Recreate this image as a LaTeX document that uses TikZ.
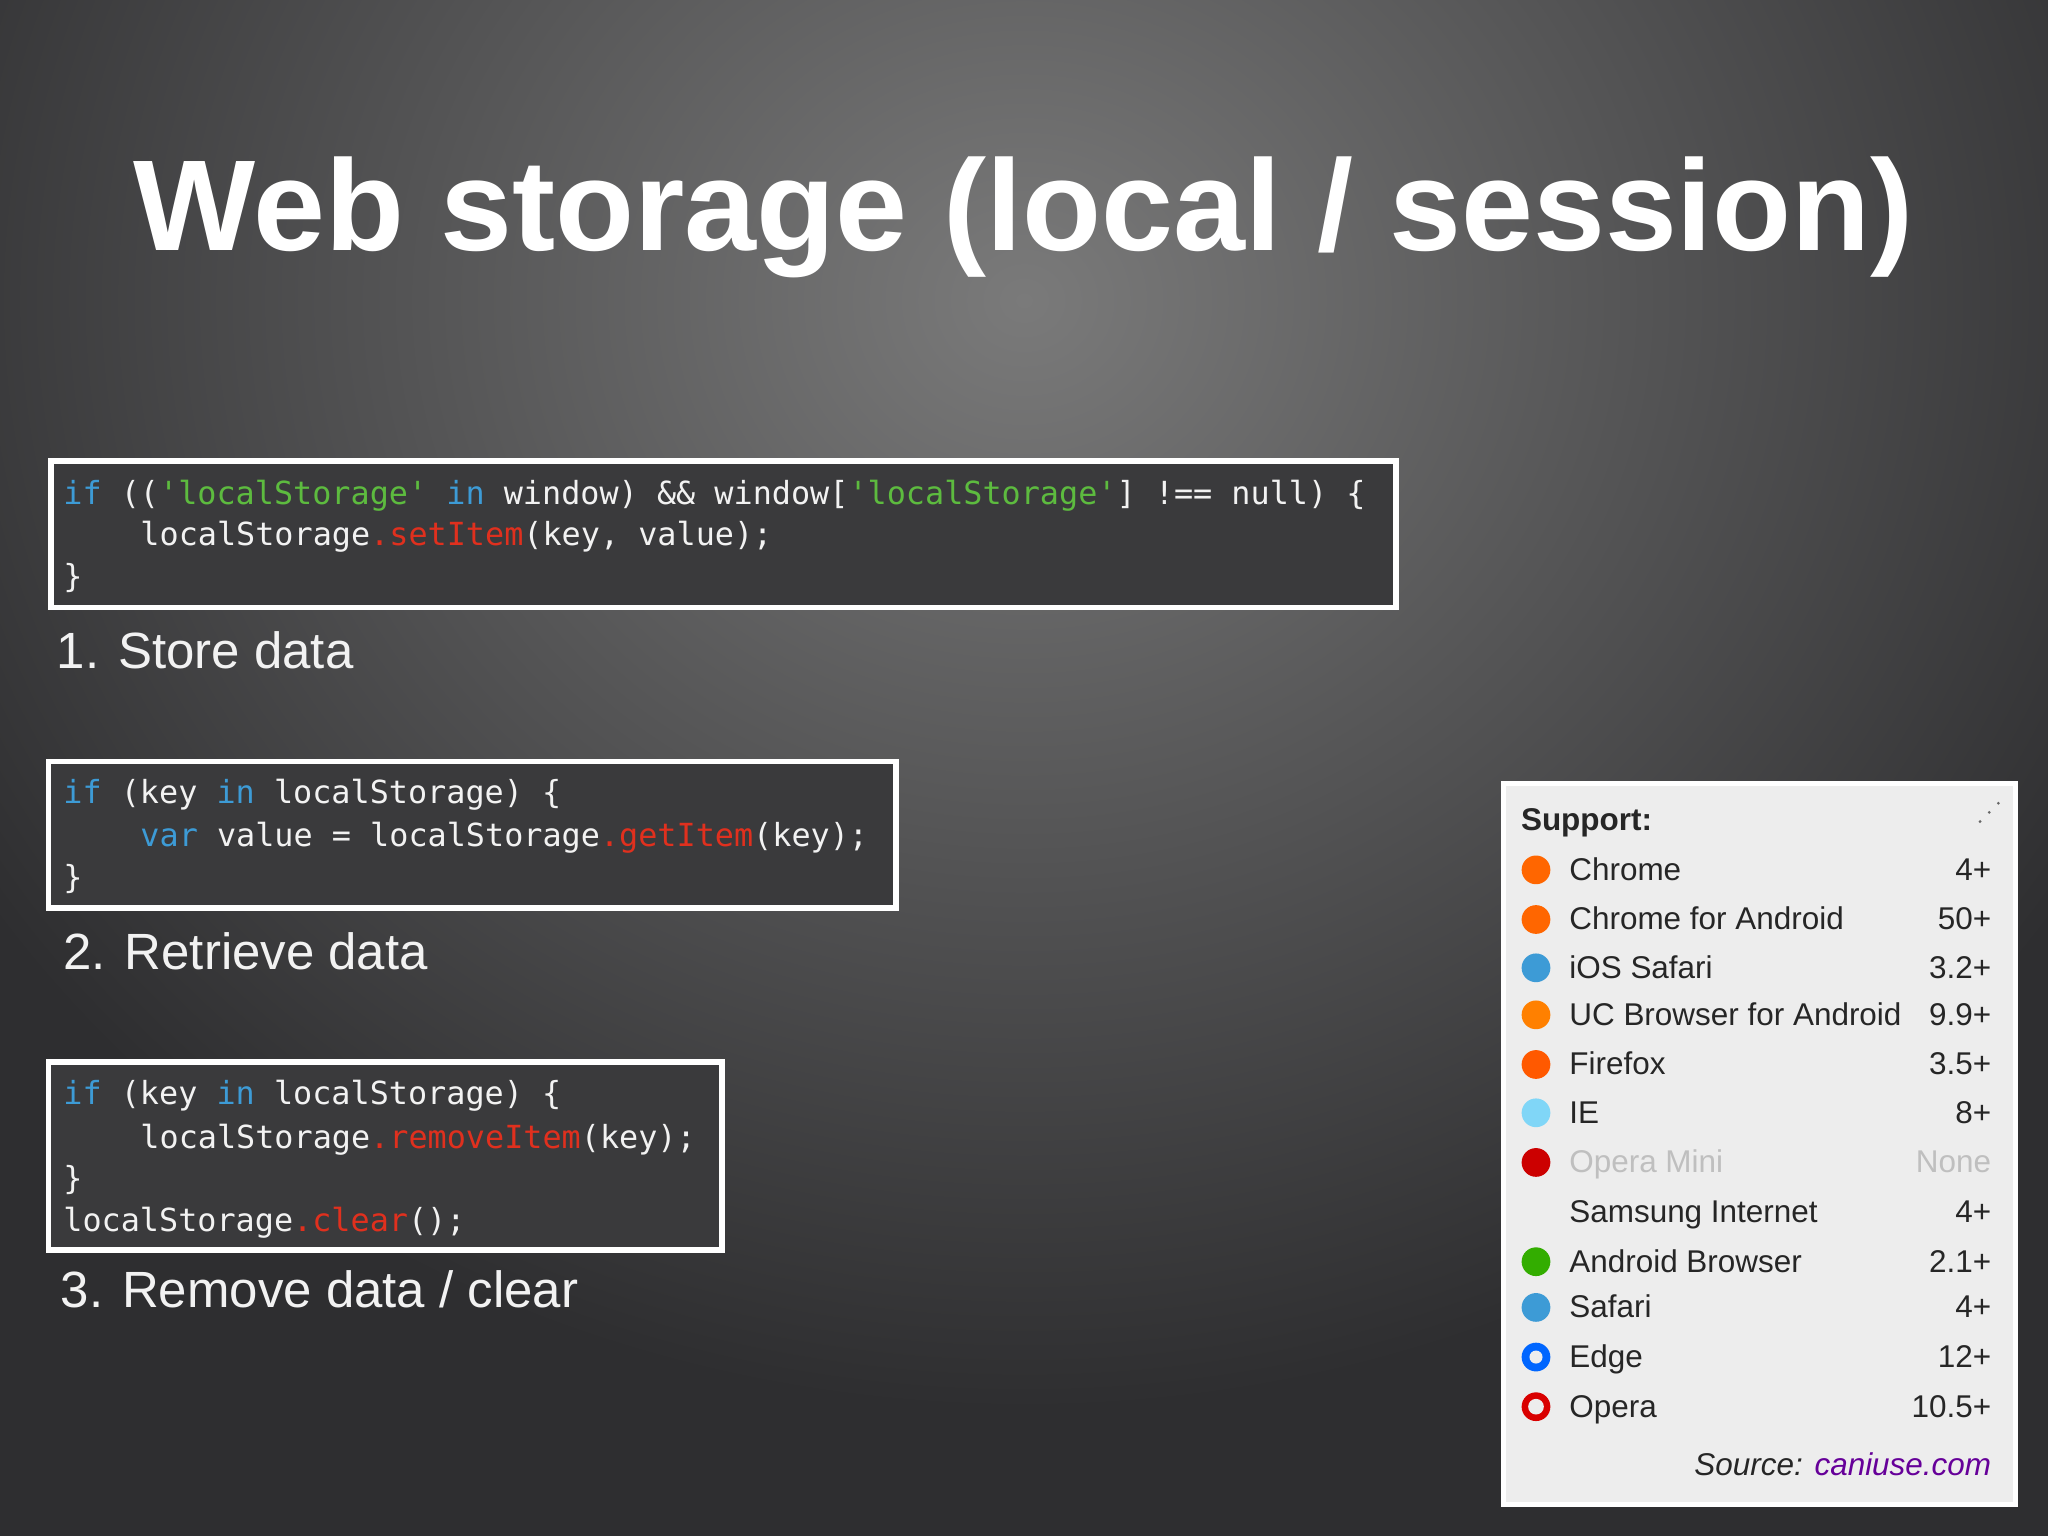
\documentclass[tikz,border=0pt]{standalone}
\usepackage{fontspec}
\setmainfont{Liberation Sans}
\setmonofont{DejaVu Sans Mono}
\definecolor{bg}{HTML}{3A3A3C}
\definecolor{kw}{HTML}{3D9BD6}
\definecolor{st}{HTML}{5DBB3F}
\definecolor{me}{HTML}{E0301E}
\definecolor{cw}{HTML}{F2F2F2}
\definecolor{panel}{HTML}{EDEDED}
\definecolor{bgout}{HTML}{2E2E30}
\definecolor{bgin}{HTML}{7A7A7A}
\tikzset{
 codebox/.style={draw=white,line width=1.6pt,fill=bg},
 code/.style={anchor=base west,inner sep=0pt,text=cw,font=\ttfamily\fontsize{9.05pt}{11pt}\selectfont},
 lab/.style={anchor=base west,inner sep=0pt,text=white!90!gray,font=\fontsize{14.5pt}{16pt}\selectfont},
 bname/.style={anchor=base west,inner sep=0pt,text=black!85,font=\fontsize{8.95pt}{11pt}\selectfont},
 bver/.style={anchor=base east,inner sep=0pt,text=black!85,font=\fontsize{8.95pt}{11pt}\selectfont},
}
\newcommand\K[1]{\textcolor{kw}{#1}}
\newcommand\Sg[1]{\textcolor{st}{#1}}
\newcommand\M[1]{\textcolor{me}{#1}}
\newcommand\brow[5]{% y, color, name, version, id
 \ifx&#2&\else\fill[#2] (1176,#1) circle (11);\fi
 \node[bname] (n#5) at (1201,#1+8) {#3};
 \node[bver] (v#5) at (1525,#1+8) {#4};}
\begin{document}
\begin{tikzpicture}[x=0.013061cm,y=-0.013061cm]
\useasboundingbox (0,0) rectangle (1568,1176);
\fill[bgout] (0,0) rectangle (1568,1176);
\begin{scope}
\clip (0,0) rectangle (1568,1176);
\shade[inner color=bgin, outer color=bgout] (784,230) ellipse (950 and 850);
\end{scope}
\node[anchor=base,inner sep=0pt,text=white,font=\bfseries\fontsize{36.8pt}{40pt}\selectfont] (title) at (784,192) {Web storage (local / session)};

% box 1
\draw[codebox] (39,353) rectangle (1069,465);
\node[code] (c11) at (48,386) {\K{if} ((\Sg{'localStorage'} \K{in} window) \&\& window[\Sg{'localStorage'}] !== null) \{};
\node[code] (c12) at (107,418) {localStorage\M{.setItem}(key, value);};
\node[code] (c13) at (48,450) {\}};
\node[lab] (l1) at (43,512) {1. Store data};

% box 2
\draw[codebox] (37,583) rectangle (686,695);
\node[code] (c21) at (48,615) {\K{if} (key \K{in} localStorage) \{};
\node[code] (c22) at (107,648) {\K{var} value = localStorage\M{.getItem}(key);};
\node[code] (c23) at (48,680) {\}};
\node[lab] (l2) at (48,742) {2. Retrieve data};

% box 3
\draw[codebox] (37,813) rectangle (553,957);
\node[code] (c31) at (48,846) {\K{if} (key \K{in} localStorage) \{};
\node[code] (c32) at (107,879) {localStorage\M{.removeItem}(key);};
\node[code] (c33) at (48,911) {\}};
\node[code] (c34) at (48,943) {localStorage\M{.clear}();};
\node[lab] (l3) at (46,1001) {3. Remove data / clear};

% support panel
\draw[draw=white,line width=1.5pt,fill=panel] (1151,600) rectangle (1543,1152);
\node[bname,font=\bfseries\fontsize{8.95pt}{11pt}\selectfont] (sup) at (1164,636) {Support:};
\fill[black!60] (1516,629) circle (1.2) (1523,622) circle (1.2) (1530,615) circle (1.2);
\brow{666}{orange!80!red}{Chrome}{4+}{a}
\brow{704}{orange!80!red}{Chrome for Android}{50+}{b}
\brow{741}{kw}{iOS Safari}{3.2+}{c}
\brow{777}{orange}{UC Browser for Android}{9.9+}{d}
\brow{815}{orange!70!red}{Firefox}{3.5+}{e}
\brow{852}{cyan!50}{IE}{8+}{f}
\fill[red!80!black] (1176,890) circle (11);
\node[bname,text=black!25] (ng) at (1201,898) {Opera Mini};
\node[bver,text=black!25] (vg) at (1525,898) {None};
\brow{928}{}{Samsung Internet}{4+}{h}
\brow{966}{green!60!black!80!yellow}{Android Browser}{2.1+}{i}
\brow{1001}{kw}{Safari}{4+}{j}
\brow{1039}{blue!60!cyan}{Edge}{12+}{k}
\brow{1077}{red!85!black}{Opera}{10.5+}{l}
\fill[panel] (1176,1077) circle (6);
\fill[panel] (1176,1039) circle (5);
\node[bver,font=\itshape\fontsize{8.95pt}{11pt}\selectfont] (src) at (1525,1130) {Source: \textcolor{violet!80!blue}{caniuse.com}};
\end{tikzpicture}
\end{document}
